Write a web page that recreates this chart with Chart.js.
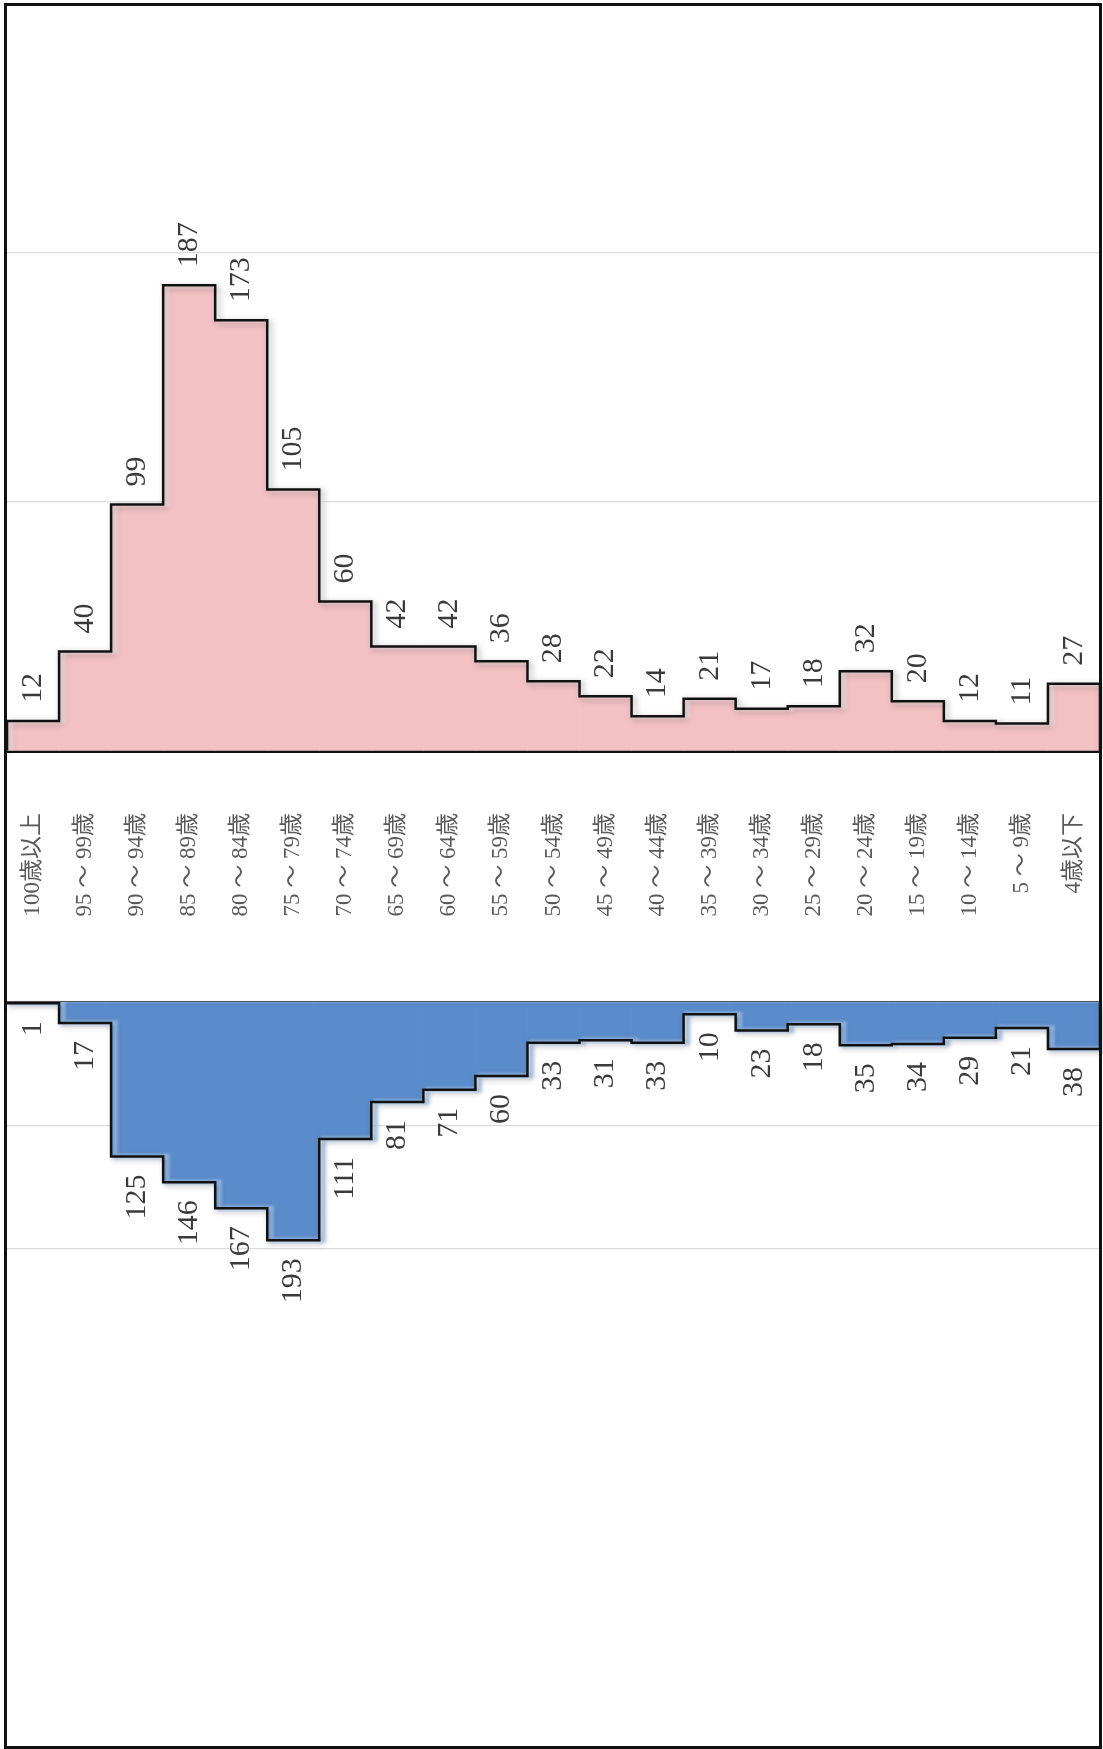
<!DOCTYPE html>
<html lang="ja">
<head>
<meta charset="utf-8">
<script src="https://cdn.jsdelivr.net/npm/chart.js@4.4.1/dist/chart.umd.min.js"></script>
<style>
  html, body { margin: 0; padding: 0; background: #fff; }
  body { width: 1103px; height: 1749px; position: relative; overflow: hidden; }
  #femaleChart { position: absolute; left: 0; top: 0; }
  #maleChart { position: absolute; left: 0; top: 1000px; }
  #frame {
    position: absolute; left: 4px; top: 3px; width: 1098px; height: 1746px;
    box-sizing: border-box; border: 3px solid #111; pointer-events: none;
  }
</style>
</head>
<body>
<canvas id="femaleChart" width="1103" height="1000"></canvas>
<canvas id="maleChart" width="1103" height="749"></canvas>
<div id="frame"></div>
<script>
// 年齢階級（上から下の順）
const ageLabels = [
  "100歳以上", "95 ～ 99歳", "90 ～ 94歳", "85 ～ 89歳", "80 ～ 84歳",
  "75 ～ 79歳", "70 ～ 74歳", "65 ～ 69歳", "60 ～ 64歳", "55 ～ 59歳",
  "50 ～ 54歳", "45 ～ 49歳", "40 ～ 44歳", "35 ～ 39歳", "30 ～ 34歳",
  "25 ～ 29歳", "20 ～ 24歳", "15 ～ 19歳", "10 ～ 14歳", "5 ～ 9歳", "4歳以下"
];
const femaleValues = [12, 40, 99, 187, 173, 105, 60, 42, 42, 36, 28, 22, 14, 21, 17, 18, 32, 20, 12, 11, 27];
const maleValues = [1, 17, 125, 146, 167, 193, 111, 81, 71, 60, 33, 31, 33, 10, 23, 18, 35, 34, 29, 21, 38];
const gridTicks = [0, 100, 200];

const pink = "#f3c1c4";
const blue = "#5a8bcb";

function outlinePath(c, bars) {
  const first = bars[0];
  const last = bars[bars.length - 1];
  c.beginPath();
  c.moveTo(first.x - first.width / 2, first.base);
  bars.forEach(b => {
    c.lineTo(b.x - b.width / 2, b.y);
    c.lineTo(b.x + b.width / 2, b.y);
  });
  c.lineTo(last.x + last.width / 2, last.base);
}

// 棒の外周をつなぐ段差線（ハイライトと影つき）
const stepOutline = {
  id: "stepOutline",
  afterDatasetsDraw(chart, args, opts) {
    const bars = chart.getDatasetMeta(0).data;
    if (!bars.length) return;
    const c = chart.ctx;
    const area = chart.chartArea;

    // 内側の明るい縁
    c.save();
    c.beginPath();
    c.rect(area.left, area.top, area.right - area.left, area.bottom - area.top);
    c.clip();
    c.translate(4, 0);
    outlinePath(c, bars);
    c.strokeStyle = opts.highlight;
    c.lineWidth = 5;
    c.filter = "blur(1.5px)";
    c.stroke();
    c.restore();

    // 黒い段差線
    c.save();
    outlinePath(c, bars);
    c.strokeStyle = "#111";
    c.lineWidth = 2.5;
    c.lineJoin = "miter";
    c.shadowColor = "rgba(0,0,0,0.35)";
    c.shadowBlur = 6;
    c.shadowOffsetX = 3;
    c.shadowOffsetY = 2;
    c.stroke();
    c.restore();
  }
};

// 数値ラベル（縦書き方向に回転）
const valueLabels = {
  id: "valueLabels",
  afterDatasetsDraw(chart, args, opts) {
    const ds = chart.data.datasets[0];
    const meta = chart.getDatasetMeta(0);
    const c = chart.ctx;
    c.save();
    c.font = '30px "Liberation Serif", "DejaVu Serif", serif';
    c.fillStyle = "#3a3a3a";
    c.textBaseline = "middle";
    meta.data.forEach((bar, i) => {
      c.save();
      c.translate(bar.x, bar.y + opts.shift);
      c.rotate(-Math.PI / 2);
      c.textAlign = opts.align;
      c.fillText(String(ds.data[i]), 0, 0);
      c.restore();
    });
    c.restore();
  }
};

function gridColor(ctx) {
  return ctx.tick && ctx.tick.value === 0 ? "#555" : "#dcdcdc";
}

function makeChart(id, values, color, female) {
  return new Chart(document.getElementById(id), {
    type: "bar",
    data: {
      labels: ageLabels,
      datasets: [
        {
          data: values,
          backgroundColor: color,
          borderWidth: 0,
          barPercentage: 1,
          categoryPercentage: 1
        }
      ]
    },
    plugins: [stepOutline, valueLabels],
    options: {
      responsive: false,
      animation: false,
      layout: {
        padding: female
          ? { top: 253, left: 7, right: 3, bottom: 0 }
          : { top: 2, left: 7, right: 3, bottom: 251 }
      },
      plugins: {
        legend: { display: false },
        tooltip: { enabled: false },
        stepOutline: {
          highlight: female ? "rgba(255,255,255,0.55)" : "rgba(170,205,245,0.8)"
        },
        valueLabels: female
          ? { shift: -18, align: "left" }
          : { shift: 18, align: "right" }
      },
      scales: {
        x: {
          display: female,
          offset: true,
          grid: { display: false, drawTicks: false },
          border: { display: true, color: "#111", width: 3 },
          ticks: {
            autoSkip: false,
            minRotation: 90,
            maxRotation: 90,
            padding: 62,
            color: "#595959",
            font: { family: '"Liberation Serif", "Noto Sans CJK JP", serif', size: 23 }
          },
          afterFit(scale) {
            scale.height = 249;
            scale.paddingLeft = 0;
            scale.paddingRight = 0;
          }
        },
        y: {
          min: gridTicks[0],
          max: gridTicks[gridTicks.length - 1],
          reverse: !female,
          afterBuildTicks(scale) { scale.ticks = gridTicks.map(v => ({ value: v })); },
          ticks: { display: false },
          border: { display: false },
          grid: { color: gridColor, lineWidth: 1.2, drawTicks: false },
          afterFit(scale) { scale.width = 0; }
        }
      }
    }
  });
}

makeChart("femaleChart", femaleValues, pink, true);
makeChart("maleChart", maleValues, blue, false);
</script>
</body>
</html>
